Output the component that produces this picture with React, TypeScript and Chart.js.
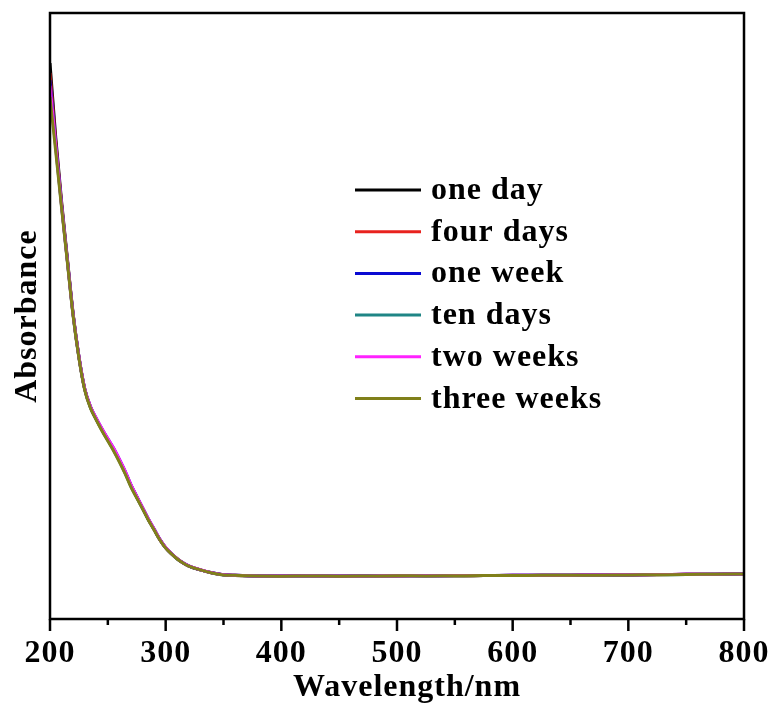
import React, { useEffect, useRef } from "react";
import { Chart, registerables } from "chart.js";

Chart.register(...registerables);

// UV-Vis absorbance spectra recorded over three weeks of storage
const wavelengths = [
  200, 205, 210, 215, 220, 225, 230, 235, 240, 245, 250, 255, 260, 265, 270, 275,
  280, 285, 290, 295, 300, 305, 310, 315, 320, 330, 340, 350, 360, 380, 400, 425,
  450, 475, 500, 525, 550, 575, 600, 625, 650, 675, 700, 725, 750, 775, 800,
];

const oneDay = [
  2.752, 2.382, 2.068, 1.786, 1.512, 1.3, 1.14, 1.05, 0.99, 0.938, 0.889, 0.841, 0.786, 0.727, 0.661, 0.605,
  0.55, 0.494, 0.444, 0.393, 0.353, 0.323, 0.298, 0.278, 0.262, 0.243, 0.229, 0.219, 0.216, 0.213, 0.213, 0.212,
  0.213, 0.213, 0.214, 0.214, 0.214, 0.215, 0.216, 0.216, 0.217, 0.217, 0.218, 0.22, 0.221, 0.222, 0.224,
];
const fourDays = [
  2.703, 2.36, 2.055, 1.779, 1.508, 1.297, 1.138, 1.048, 0.989, 0.936, 0.887, 0.839, 0.784, 0.725, 0.66, 0.604,
  0.549, 0.493, 0.443, 0.392, 0.352, 0.323, 0.298, 0.277, 0.262, 0.243, 0.228, 0.219, 0.215, 0.213, 0.212, 0.213,
  0.212, 0.213, 0.213, 0.214, 0.214, 0.215, 0.215, 0.216, 0.217, 0.218, 0.218, 0.219, 0.221, 0.222, 0.223,
];
const oneWeek = [
  2.668, 2.348, 2.05, 1.776, 1.507, 1.298, 1.14, 1.051, 0.993, 0.941, 0.892, 0.845, 0.79, 0.731, 0.664, 0.607,
  0.551, 0.495, 0.445, 0.394, 0.353, 0.324, 0.298, 0.278, 0.263, 0.243, 0.229, 0.219, 0.216, 0.213, 0.213, 0.213,
  0.213, 0.214, 0.214, 0.214, 0.215, 0.215, 0.216, 0.216, 0.217, 0.218, 0.219, 0.22, 0.221, 0.222, 0.224,
];
const tenDays = [
  2.619, 2.33, 2.043, 1.772, 1.503, 1.294, 1.136, 1.046, 0.987, 0.933, 0.884, 0.835, 0.78, 0.721, 0.656, 0.601,
  0.547, 0.491, 0.442, 0.392, 0.352, 0.322, 0.297, 0.277, 0.262, 0.243, 0.228, 0.218, 0.215, 0.213, 0.212, 0.212,
  0.213, 0.213, 0.214, 0.213, 0.214, 0.215, 0.215, 0.216, 0.216, 0.217, 0.218, 0.219, 0.22, 0.221, 0.223,
];
const twoWeeks = [
  2.64, 2.34, 2.046, 1.774, 1.506, 1.299, 1.141, 1.052, 0.994, 0.942, 0.893, 0.846, 0.791, 0.732, 0.665, 0.608,
  0.552, 0.496, 0.446, 0.394, 0.354, 0.324, 0.299, 0.278, 0.263, 0.244, 0.229, 0.219, 0.216, 0.213, 0.213, 0.213,
  0.213, 0.213, 0.214, 0.214, 0.215, 0.215, 0.216, 0.216, 0.217, 0.218, 0.219, 0.22, 0.221, 0.222, 0.223,
];
const threeWeeks = [
  2.584, 2.312, 2.035, 1.767, 1.5, 1.292, 1.134, 1.044, 0.985, 0.931, 0.881, 0.832, 0.777, 0.718, 0.653, 0.599,
  0.545, 0.49, 0.441, 0.391, 0.351, 0.322, 0.297, 0.277, 0.262, 0.243, 0.228, 0.218, 0.216, 0.213, 0.212, 0.213,
  0.212, 0.213, 0.214, 0.213, 0.214, 0.215, 0.215, 0.216, 0.216, 0.217, 0.218, 0.219, 0.22, 0.222, 0.223,
];

const seriesLabels = ["one day", "four days", "one week", "ten days", "two weeks", "three weeks"];
const seriesValues = [oneDay, fourDays, oneWeek, tenDays, twoWeeks, threeWeeks];
const seriesColors = ["#000000", "#e8221e", "#0a0ad2", "#1f8585", "#ff22ff", "#80801a"];

const xMin = 200;
const xMax = 800;
const xMajorStep = 100;
const xMinorStep = 50;
const yMin = 0;
const yMax = 3;
const xTitle = "Wavelength/nm";
const yTitle = "Absorbance";

const FONT_FAMILY = "'Liberation Serif', 'Times New Roman', serif";
const boldFont = { family: FONT_FAMILY, size: 32, weight: "bold" as const };

// Slightly looser lettering for all text on the canvas
const letterSpacing = {
  id: "letterSpacing",
  beforeDraw(chart: any) {
    chart.ctx.letterSpacing = "1px";
  },
};

// Black box round the plot, outward major/minor ticks and the x-axis title
const frameAndTicks = {
  id: "frameAndTicks",
  afterDraw(chart: any) {
    const { ctx, chartArea } = chart;
    const { left, top, right, bottom } = chartArea;
    const xScale = chart.scales.x;
    ctx.save();
    ctx.strokeStyle = "#000";
    ctx.lineWidth = 2.5;
    ctx.strokeRect(left, top, right - left, bottom - top);
    for (let v = xMin; v <= xMax; v += xMinorStep) {
      const px = xScale.getPixelForValue(v);
      const len = v % xMajorStep === 0 ? 12 : 6;
      ctx.beginPath();
      ctx.moveTo(px, bottom);
      ctx.lineTo(px, bottom + len);
      ctx.stroke();
    }
    ctx.font = `bold 32px ${FONT_FAMILY}`;
    ctx.letterSpacing = "1px";
    ctx.fillStyle = "#000";
    ctx.textAlign = "center";
    ctx.textBaseline = "alphabetic";
    ctx.fillText(xTitle, (left + right) / 2 + 10, bottom + 77);
    ctx.restore();
  },
};

// Legend block placed inside the plot, to the right of the absorption edge
const insideLegend = {
  id: "insideLegend",
  afterDraw(chart: any) {
    const { ctx } = chart;
    const x0 = 355;
    const lineLen = 66;
    const y0 = 190;
    const rowGap = 41.7;
    ctx.save();
    ctx.font = `bold 32px ${FONT_FAMILY}`;
    ctx.letterSpacing = "1px";
    ctx.textBaseline = "alphabetic";
    ctx.textAlign = "left";
    chart.data.datasets.forEach((ds: any, i: number) => {
      const y = y0 + i * rowGap;
      ctx.strokeStyle = ds.borderColor;
      ctx.lineWidth = 3;
      ctx.beginPath();
      ctx.moveTo(x0, y);
      ctx.lineTo(x0 + lineLen, y);
      ctx.stroke();
      ctx.fillStyle = "#000";
      ctx.fillText(ds.label, x0 + lineLen + 10, y + 9);
    });
    ctx.restore();
  },
};

export default function App() {
  const canvasRef = useRef<HTMLCanvasElement | null>(null);

  useEffect(() => {
    const canvas = canvasRef.current;
    if (!canvas) return;
    const n = seriesLabels.length;
    const chart = new Chart(canvas, {
      type: "line",
      data: {
        datasets: seriesLabels.map((label, i) => ({
          label,
          data: wavelengths.map((w, j) => ({ x: w, y: seriesValues[i][j] })),
          borderColor: seriesColors[i],
          backgroundColor: seriesColors[i],
          borderWidth: 3,
          pointRadius: 0,
          fill: false,
          order: n - 1 - i,
          cubicInterpolationMode: "monotone" as const,
        })),
      },
      options: {
        animation: false,
        responsive: false,
        maintainAspectRatio: false,
        layout: { padding: { top: 13, right: 30, left: 0, bottom: 0 } },
        plugins: {
          legend: { display: false },
          tooltip: { enabled: false },
        },
        scales: {
          x: {
            type: "linear",
            min: xMin,
            max: xMax,
            grid: { display: false, drawTicks: false },
            border: { display: false },
            ticks: {
              stepSize: xMinorStep,
              autoSkip: false,
              maxRotation: 0,
              minRotation: 0,
              padding: 16,
              color: "#000",
              font: boldFont,
              callback: (v: any) => (Number(v) % xMajorStep === 0 ? String(v) : ""),
            },
            title: { display: false },
            afterFit: (s: any) => {
              s.height = 85;
              s.paddingLeft = 0;
              s.paddingRight = 0;
            },
          },
          y: {
            type: "linear",
            min: yMin,
            max: yMax,
            grid: { display: false, drawTicks: false },
            border: { display: false },
            ticks: { display: false },
            title: {
              display: true,
              text: yTitle,
              color: "#000",
              font: boldFont,
              padding: { top: 9, bottom: 0 },
            },
            afterFit: (s: any) => {
              s.width = 50;
              s.paddingTop = 0;
              s.paddingBottom = 0;
            },
          },
        },
      },
      plugins: [letterSpacing, frameAndTicks, insideLegend],
    });
    return () => chart.destroy();
  }, []);

  return (
    <div style={{ position: "fixed", left: 0, top: 0, width: 774, height: 704, background: "#fff" }}>
      <canvas ref={canvasRef} width={774} height={704} style={{ display: "block" }} />
    </div>
  );
}
